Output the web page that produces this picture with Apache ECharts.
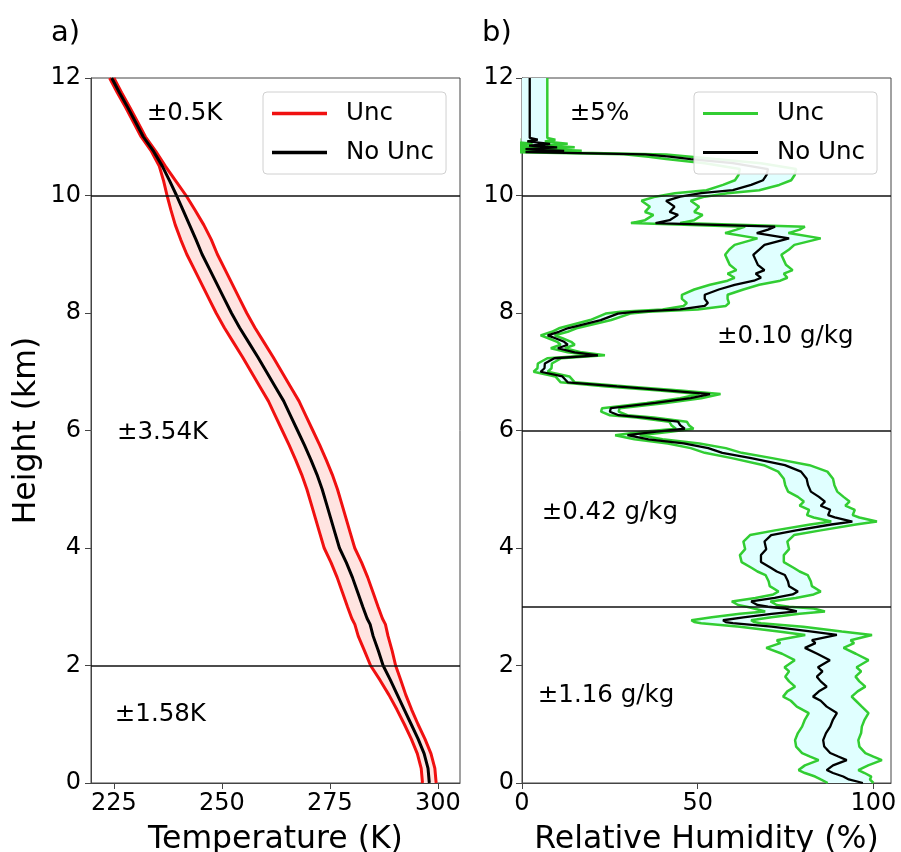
<!DOCTYPE html>
<html>
<head>
<meta charset="utf-8">
<script src="https://cdn.jsdelivr.net/npm/echarts@6/dist/echarts.min.js"></script>
<style>
  html, body { margin: 0; padding: 0; background: #fff; }
  #chart { width: 901px; height: 852px; }
</style>
</head>
<body>
<div id="chart"></div>
<script>
// ---- Panel a: temperature profile (K) ----
const tempHeight = [0, 0.25, 0.5, 0.75, 1.0, 1.25, 1.5, 1.75, 2.0, 2.25, 2.5, 2.7, 2.8, 3.0, 3.25, 3.5, 3.75,
  4.0, 4.25, 4.5, 4.75, 5.0, 5.25, 5.5, 5.75, 6.0, 6.25, 6.5, 6.75, 7.0, 7.25, 7.5, 7.75, 8.0, 8.25, 8.5,
  8.75, 9.0, 9.25, 9.5, 9.75, 10.0, 10.25, 10.5, 10.75, 11.0, 11.25, 11.5, 11.75, 12.0];
const tempValue = [298.0, 297.7, 296.8, 295.4, 293.8, 292.2, 290.6, 289.0, 287.3, 286.2, 285.0, 284.3, 283.6,
  282.6, 281.4, 280.2, 278.8, 277.2, 276.2, 275.2, 274.2, 273.2, 272.0, 270.6, 269.1, 267.5, 265.9, 264.3,
  262.3, 260.3, 258.3, 256.2, 254.1, 252.2, 250.5, 248.8, 247.1, 245.4, 244.0, 242.5, 241.0, 239.5, 237.9,
  236.2, 234.2, 231.8, 230.0, 228.2, 226.3, 224.5];
// half-width of the uncertainty band (K) at each level
const tempUnc = [1.58, 1.58, 1.58, 1.58, 1.58, 1.7, 1.95, 2.4, 2.9, 3.2, 3.45, 3.54, 3.54, 3.54, 3.54, 3.54,
  3.54, 3.54, 3.54, 3.54, 3.54, 3.54, 3.54, 3.54, 3.54, 3.54, 3.54, 3.54, 3.54, 3.54, 3.54, 3.54, 3.54, 3.54,
  3.54, 3.54, 3.54, 3.54, 3.54, 3.3, 2.8, 2.2, 1.4, 0.7, 0.5, 0.5, 0.5, 0.5, 0.5, 0.5];
const tempBreaks = [2, 10];
const tempTicks = [225, 250, 275, 300];
const tempNoteText = ['±0.5K', '±3.54K', '±1.58K'];
const tempNoteX = [232.6, 225.7, 225.2];
const tempNoteY = [11.4, 5.96, 1.16];

// ---- Panel b: relative humidity profile (%) ----
const rhHeight = [0.00, 0.06, 0.11, 0.17, 0.22, 0.30, 0.39, 0.45, 0.51, 0.62, 0.73, 0.85, 0.96, 1.08, 1.19,
  1.30, 1.40, 1.47, 1.56, 1.64, 1.73, 1.81, 1.90, 1.97, 2.09, 2.20, 2.30, 2.38, 2.43, 2.52, 2.58, 2.66, 2.72,
  2.74, 2.77, 2.82, 2.88, 2.92, 2.97, 3.00, 3.03, 3.09, 3.15, 3.21, 3.26, 3.35, 3.43, 3.54, 3.60, 3.66, 3.76,
  3.88, 3.98, 4.11, 4.22, 4.30, 4.40, 4.45, 4.52, 4.56, 4.65, 4.72, 4.79, 4.87, 4.96, 5.07, 5.18, 5.30, 5.41,
  5.53, 5.62, 5.70, 5.78, 5.85, 5.92, 5.98, 6.03, 6.09, 6.15, 6.22, 6.26, 6.32, 6.38, 6.47, 6.55, 6.62, 6.68,
  6.75, 6.82, 6.92, 7.00, 7.06, 7.14, 7.23, 7.28, 7.33, 7.40, 7.46, 7.51, 7.57, 7.62, 7.68, 7.74, 7.88, 7.99,
  8.02, 8.06, 8.12, 8.17, 8.24, 8.31, 8.40, 8.48, 8.55, 8.60, 8.67, 8.73, 8.82, 8.90, 8.99, 9.08, 9.16, 9.27,
  9.36, 9.42, 9.47, 9.53, 9.58, 9.67, 9.72, 9.81, 9.91, 9.98, 10.04, 10.09, 10.18, 10.26, 10.35, 10.45, 10.55,
  10.62, 10.66, 10.70, 10.74, 10.76, 10.79, 10.82, 10.85, 10.88, 10.92, 10.95, 10.98, 12.00];
const rhValue = [97.0, 93.0, 91.4, 88.5, 86.7, 88.5, 92.4, 90.0, 87.7, 86.0, 85.7, 86.5, 87.7, 88.5, 89.6,
  86.7, 85.0, 82.8, 84.5, 86.7, 85.0, 83.9, 85.5, 84.2, 87.6, 84.0, 80.5, 83.5, 82.5, 89.6, 82.0, 71.0, 60.0,
  58.0, 57.2, 63.0, 71.0, 78.2, 75.0, 70.0, 67.0, 65.2, 71.9, 77.0, 78.5, 76.0, 75.7, 74.8, 72.5, 70.9, 68.0,
  68.0, 69.5, 69.0, 70.9, 78.0, 88.0, 94.0, 89.0, 87.1, 87.7, 85.0, 86.2, 84.5, 82.2, 81.4, 81.0, 79.4, 74.8,
  65.2, 57.0, 53.0, 46.0, 36.0, 30.0, 38.3, 46.3, 45.0, 44.4, 35.0, 27.5, 25.0, 25.3, 38.0, 48.0, 53.5, 42.0,
  27.0, 13.0, 11.5, 5.3, 6.4, 6.5, 9.2, 21.6, 15.0, 10.2, 13.0, 12.0, 9.5, 7.3, 10.5, 13.0, 22.4, 27.3,
  32.0, 45.0, 52.0, 52.9, 52.0, 52.0, 56.0, 60.5, 66.0, 68.0, 66.5, 69.0, 67.1, 66.5, 65.8, 67.5, 69.0, 76.0,
  66.8, 70.0, 72.0, 38.0, 42.0, 44.4, 42.0, 43.4, 41.0, 45.0, 51.0, 60.0, 65.2, 68.6, 69.6, 70.0, 60.0,
  48.0, 42.0, 35.0, 1.0, 12.0, 1.0, 10.0, 2.0, 8.0, 1.5, 4.5, 2.2, 2.2];
// distance from the profile to the lower / upper uncertainty edge (% RH)
const rhMinus = [10, 8, 8, 8, 8, 8, 8, 8, 8, 8, 8, 8, 8, 8, 8,
  8.5, 8.5, 8.5, 9, 9, 9, 9, 9.5, 9.5, 10, 10, 11, 10, 10, 9, 9, 9, 9,
  9, 9, 9, 9, 9, 9, 6, 5.5, 5.5, 5.5, 5.5, 5.5, 5.5, 5.5, 5.5, 5.5, 5.5, 5.5,
  6, 6, 6, 6, 6, 6, 6, 6, 6, 6, 6, 6, 6, 6.5, 6.5, 6.5, 6.5, 6,
  5.5, 5, 5, 4.5, 4, 3.5, 4, 2.5, 2.5, 2.5, 2.5, 2.5, 2.5, 2.5, 2.5, 3, 3, 3,
  3, 2, 2, 2, 2, 2, 2, 2, 2, 2, 2, 2, 2, 2, 2, 2.5, 3, 3.5,
  4, 5, 6, 6, 6.5, 6.5, 7, 7, 7.5, 7.5, 8, 8, 8, 8, 8, 8.5, 8.5, 9,
  9, 9, 8.5, 7, 7, 7, 7, 7, 7, 7, 7.5, 7.5, 8, 8, 8, 8, 8,
  7, 6, 6, 5, 5, 5, 5, 5, 5, 5, 5, 5, 5];
const rhPlus = [3, 6, 8, 9, 9, 10, 10, 10, 10, 10, 10, 10, 9, 9, 9,
  10, 10, 11, 11, 11, 11, 11, 11, 11, 11, 11, 11, 11, 11, 10, 9, 9, 8,
  8, 8, 8, 8, 8, 8, 6, 5.5, 5.5, 6, 6, 6.5, 6.5, 6.5, 6.5, 6.5, 6.5, 6.5,
  6.5, 6.5, 6.5, 6.5, 7, 7, 7, 7, 7, 7, 7, 7, 7, 7.5, 7.5, 7.5, 7.5, 7,
  6, 5.5, 5, 4.5, 4, 3.5, 4, 2.5, 2.5, 2.5, 2.5, 2.5, 2.5, 2.5, 3, 3, 3, 3,
  3, 2, 2, 2, 2, 2, 2, 2, 2, 2, 2, 2, 2, 2, 2.5, 2.5, 3, 3.5,
  4, 5, 6, 6, 6.5, 6.5, 7, 7, 7.5, 7.5, 8, 8, 8, 8, 8, 8.5, 8.5, 9,
  9, 9, 8.5, 7, 7, 7, 7, 7, 7, 7, 7.5, 7.5, 8, 8, 8, 8, 8,
  7, 6, 6, 5, 5, 5, 5, 5, 5, 5, 5, 5, 5];
const rhBreaks = [3, 6, 10];
const rhTicks = [0, 50, 100];
const rhNoteText = ['±5%', '±0.10 g/kg', '±0.42 g/kg', '±1.16 g/kg'];
const rhNoteX = [13.6, 55.5, 5.6, 4.5];
const rhNoteY = [11.4, 7.59, 4.6, 1.48];

const FONT = 'DejaVu Sans';
const INK = '#000';
const RED = '#f01010', PINK = '#ffe4e1';
const GREEN = '#32cd32', CYAN = '#e0ffff';

// profile edges as [x, height] pairs
const tempLine = tempValue.map((t, i) => [t, tempHeight[i]]);
const tempLow = tempValue.map((t, i) => [t - tempUnc[i], tempHeight[i]]);
const tempHigh = tempValue.map((t, i) => [t + tempUnc[i], tempHeight[i]]);
const rhLine = rhValue.map((r, i) => [r, rhHeight[i]]);
const rhLow = rhValue.map((r, i) => [r - rhMinus[i], rhHeight[i]]);
const rhHigh = rhValue.map((r, i) => [r + rhPlus[i], rhHeight[i]]);

// filled region between the two uncertainty edges
function bandSeries(axis, low, high, fill) {
  return {
    type: 'custom', xAxisIndex: axis, yAxisIndex: axis, clip: true, silent: true, z: 1,
    data: [low[0]],
    renderItem: function (params, api) {
      const pts = low.map(p => api.coord(p)).concat(high.slice().reverse().map(p => api.coord(p)));
      return { type: 'polygon', shape: { points: pts }, style: { fill: fill, stroke: null } };
    }
  };
}
function lineSeries(axis, name, data, color, width, z) {
  return {
    type: 'line', name: name, xAxisIndex: axis, yAxisIndex: axis, data: data,
    showSymbol: false, symbol: 'none', clip: true, z: z, silent: true,
    lineStyle: { color: color, width: width }, itemStyle: { color: color }
  };
}
function breakLines(breaks) {
  return {
    symbol: 'none', silent: true, animation: false,
    label: { show: false },
    lineStyle: { color: '#111', width: 1.6, type: 'solid' },
    data: breaks.map(v => ({ yAxis: v }))
  };
}
// text annotations anchored at data coordinates (left edge, vertical centre)
function noteSeries(axis, xs, ys, texts) {
  return {
    type: 'custom', xAxisIndex: axis, yAxisIndex: axis, silent: true, z: 5, clip: false,
    data: texts.map((t, i) => [xs[i], ys[i]]),
    renderItem: function (params, api) {
      const p = api.coord([api.value(0), api.value(1)]);
      return {
        type: 'text', x: p[0], y: p[1],
        style: {
          text: texts[params.dataIndex], fontFamily: FONT, fontSize: 24.5, fill: INK,
          align: 'left', verticalAlign: 'middle'
        }
      };
    }
  };
}
function legendBox(left, uncColor, lineH) {
  return {
    orient: 'vertical', left: left, top: 92, selectedMode: false,
    icon: 'rect', itemWidth: 55, itemHeight: lineH, itemGap: 12,
    padding: [8, 12, 8, 9],
    backgroundColor: 'rgba(255,255,255,0.9)', borderColor: '#d0d0d0', borderWidth: 1, borderRadius: 4,
    textStyle: { fontFamily: FONT, fontSize: 24.5, color: INK, lineHeight: 27, padding: [0, 0, 0, 14] },
    data: [
      { name: 'Unc', itemStyle: { color: uncColor } },
      { name: 'No Unc', itemStyle: { color: '#000' } }
    ]
  };
}

const labelStyle = { fontFamily: FONT, fontSize: 24, color: INK };
const nameStyle = { fontFamily: FONT, fontSize: 31.5, color: INK };
const axisLineStyle = { show: true, lineStyle: { color: '#444', width: 1 } };
const titleStyle = { fontFamily: FONT, fontSize: 29, fontWeight: 'normal', color: INK };

const option = {
  animation: false,
  backgroundColor: '#fff',
  title: [
    { text: 'a)', left: 51, top: 19, padding: 0, textStyle: titleStyle },
    { text: 'b)', left: 482, top: 19, padding: 0, textStyle: titleStyle }
  ],
  grid: [
    { left: 91, right: 441, top: 78, bottom: 69, outerBoundsMode: 'none', containLabel: false,
      show: true, borderColor: '#444', borderWidth: 1, backgroundColor: 'transparent' },
    { left: 522, right: 10, top: 78, bottom: 69, outerBoundsMode: 'none', containLabel: false,
      show: true, borderColor: '#444', borderWidth: 1, backgroundColor: 'transparent' }
  ],
  legend: [legendBox(263, RED, 3.5), legendBox(694, GREEN, 3)],
  xAxis: [
    {
      gridIndex: 0, type: 'value', min: 219.7, max: 305.1,
      axisLine: axisLineStyle, splitLine: { show: false },
      axisTick: { show: true, length: 6, customValues: tempTicks, lineStyle: { color: '#444' } },
      axisLabel: Object.assign({ margin: 9, customValues: tempTicks }, labelStyle),
      name: 'Temperature (K)', nameLocation: 'middle', nameGap: 41, nameTextStyle: nameStyle
    },
    {
      gridIndex: 1, type: 'value', min: 0, max: 105,
      axisLine: axisLineStyle, splitLine: { show: false },
      axisTick: { show: true, length: 6, customValues: rhTicks, lineStyle: { color: '#444' } },
      axisLabel: Object.assign({ margin: 9, customValues: rhTicks }, labelStyle),
      name: 'Relative Humidity (%)', nameLocation: 'middle', nameGap: 41, nameTextStyle: nameStyle
    }
  ],
  yAxis: [
    {
      gridIndex: 0, type: 'value', min: 0, max: 12, interval: 2,
      axisLine: axisLineStyle, splitLine: { show: false },
      axisTick: { show: true, length: 6, lineStyle: { color: '#444' } },
      axisLabel: Object.assign({ margin: 10 }, labelStyle),
      name: 'Height (km)', nameLocation: 'middle', nameGap: 48, nameTextStyle: nameStyle
    },
    {
      gridIndex: 1, type: 'value', min: 0, max: 12, interval: 2,
      axisLine: axisLineStyle, splitLine: { show: false },
      axisTick: { show: true, length: 6, lineStyle: { color: '#444' } },
      axisLabel: Object.assign({ margin: 8 }, labelStyle)
    }
  ],
  series: [
    bandSeries(0, tempLow, tempHigh, PINK),
    lineSeries(0, 'Unc', tempLow, RED, 3, 2),
    lineSeries(0, 'Unc', tempHigh, RED, 3, 2),
    Object.assign(lineSeries(0, 'No Unc', tempLine, '#000', 3, 3), { markLine: breakLines(tempBreaks) }),
    noteSeries(0, tempNoteX, tempNoteY, tempNoteText),

    bandSeries(1, rhLow, rhHigh, CYAN),
    lineSeries(1, 'Unc', rhLow, GREEN, 2.5, 2),
    lineSeries(1, 'Unc', rhHigh, GREEN, 2.5, 2),
    Object.assign(lineSeries(1, 'No Unc', rhLine, '#000', 2.3, 3), { markLine: breakLines(rhBreaks) }),
    noteSeries(1, rhNoteX, rhNoteY, rhNoteText)
  ]
};

const chart = echarts.init(document.getElementById('chart'), null, { renderer: 'canvas' });
chart.setOption(option);
</script>
</body>
</html>
